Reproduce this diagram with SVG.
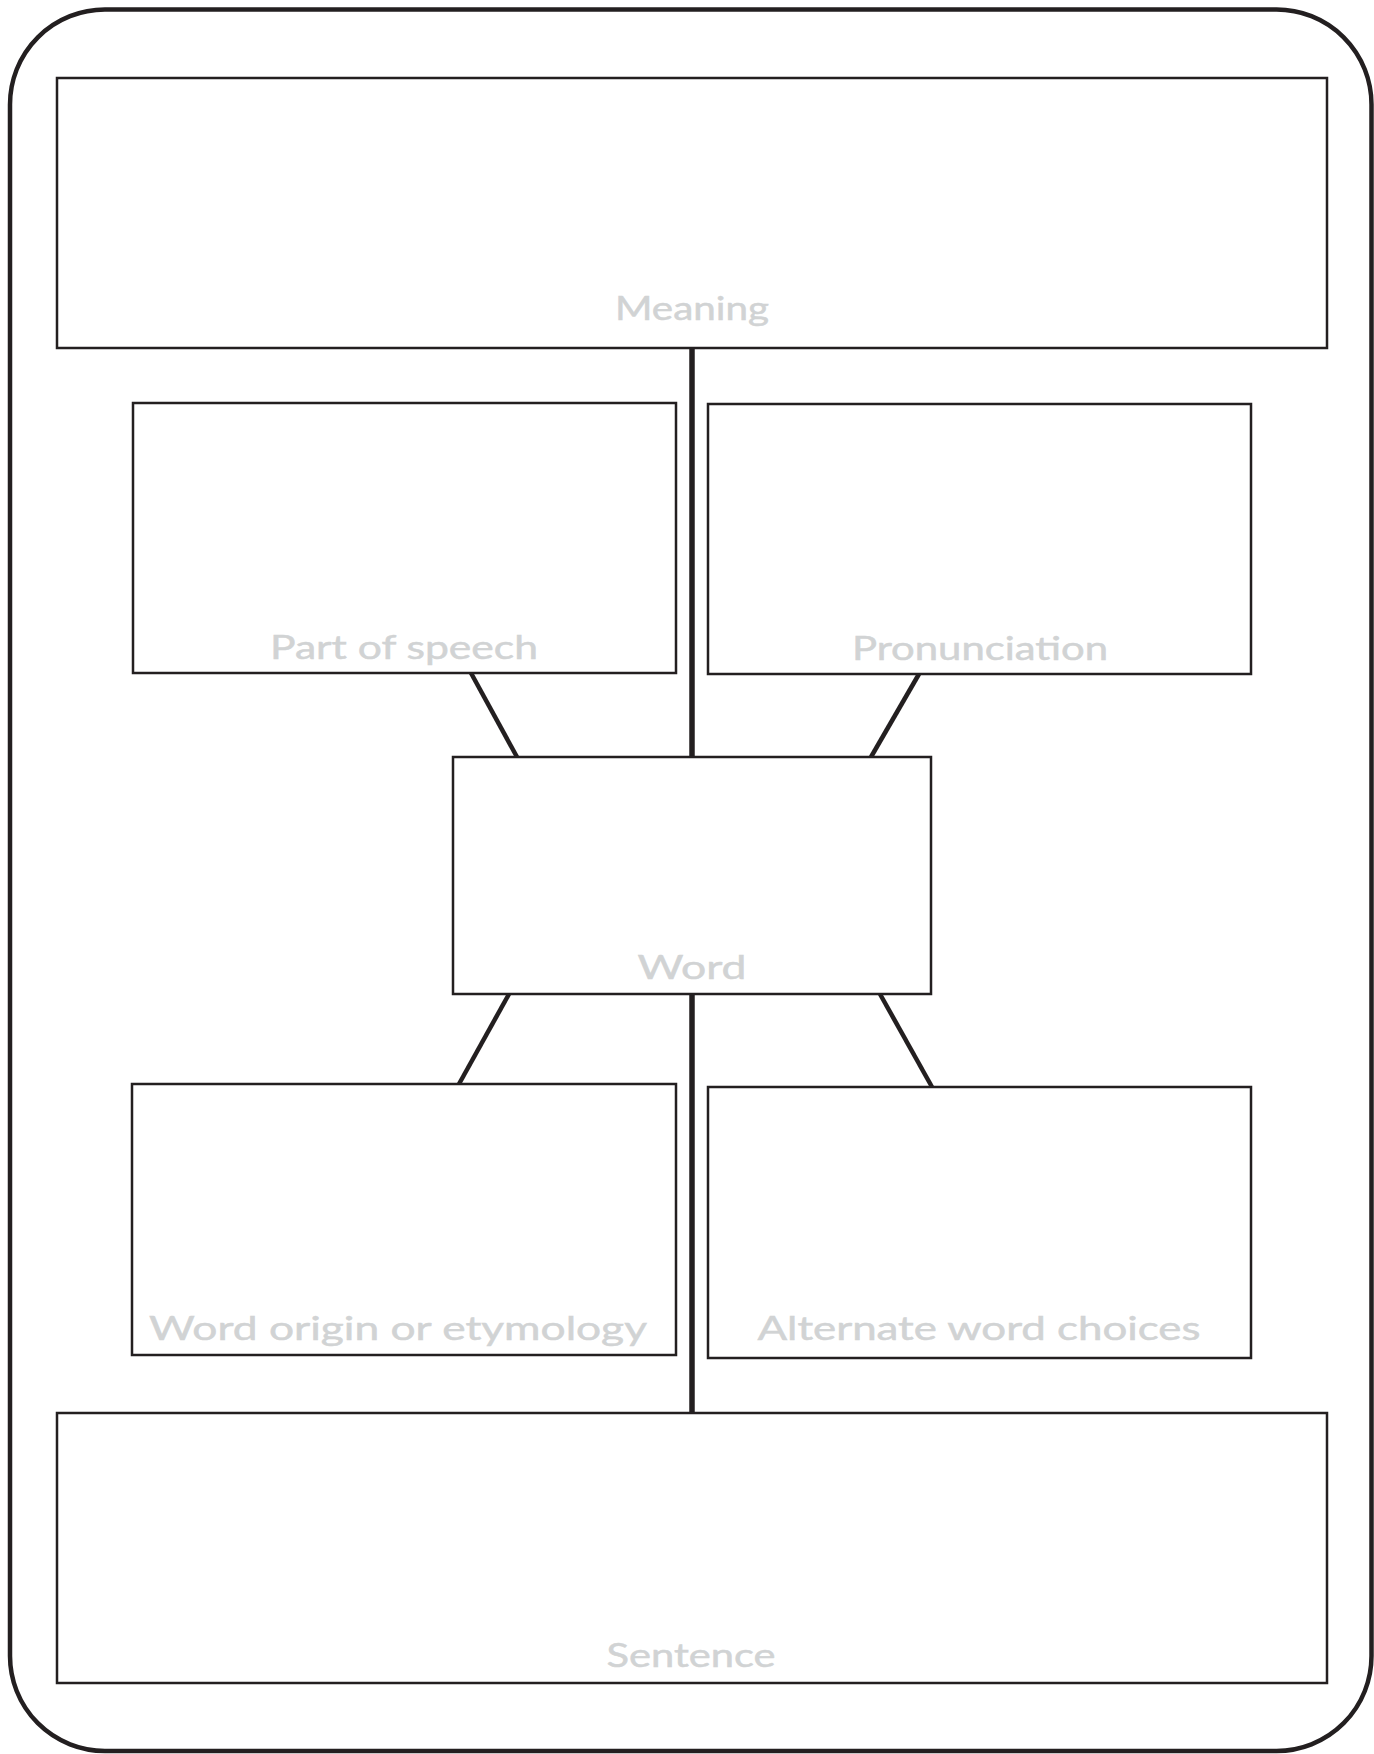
<svg xmlns="http://www.w3.org/2000/svg" width="1374" height="1754" viewBox="0 0 1374 1754">
<style>
.box{fill:#fff;stroke:#231f20;stroke-width:2.5}
.lbl{font-family:Lato,"Open Sans","Liberation Sans",sans-serif;font-size:32px;fill:#d1d3d4;text-anchor:middle;stroke:#d1d3d4;stroke-width:0.5}
.con{stroke:#231f20;stroke-width:4.5;fill:none}
.stem{stroke:#231f20;stroke-width:5.5;fill:none}
</style>
<rect x="0" y="0" width="1374" height="1754" fill="#fff"/>
<rect id="frame" x="10" y="9.5" width="1361.5" height="1741.5" rx="95" ry="95" fill="#fff" stroke="#231f20" stroke-width="4.5"/>
<g id="connectors">
<line class="stem" x1="692" y1="348" x2="692" y2="757"/>
<line class="stem" x1="692" y1="994" x2="692" y2="1413"/>
<line class="con" x1="471" y1="673" x2="517" y2="757"/>
<line class="con" x1="919" y1="674" x2="871" y2="757"/>
<line class="con" x1="509" y1="994" x2="459" y2="1084"/>
<line class="con" x1="880" y1="994" x2="932" y2="1087"/>
</g>
<g id="meaning">
<rect class="box" x="57" y="78" width="1270" height="270"/>
<text class="lbl" x="692" y="320" textLength="154" lengthAdjust="spacingAndGlyphs">Meaning</text>
</g>
<g id="part-of-speech">
<rect class="box" x="133" y="403" width="543" height="270"/>
<text class="lbl" x="404" y="659" textLength="268" lengthAdjust="spacingAndGlyphs">Part of speech</text>
</g>
<g id="pronunciation">
<rect class="box" x="708" y="404" width="543" height="270"/>
<text class="lbl" x="980" y="660" textLength="256" lengthAdjust="spacingAndGlyphs">Pronunciation</text>
</g>
<g id="word">
<rect class="box" x="453" y="757" width="478" height="237"/>
<text class="lbl" x="692" y="979" textLength="109" lengthAdjust="spacingAndGlyphs">Word</text>
</g>
<g id="word-origin">
<rect class="box" x="132" y="1084" width="544" height="271"/>
<text class="lbl" x="398" y="1340" textLength="498" lengthAdjust="spacingAndGlyphs">Word origin or etymology</text>
</g>
<g id="alternate">
<rect class="box" x="708" y="1087" width="543" height="271"/>
<text class="lbl" x="979" y="1340" textLength="443" lengthAdjust="spacingAndGlyphs">Alternate word choices</text>
</g>
<g id="sentence">
<rect class="box" x="57" y="1413" width="1270" height="270"/>
<text class="lbl" x="691" y="1667" textLength="169" lengthAdjust="spacingAndGlyphs">Sentence</text>
</g>
</svg>
